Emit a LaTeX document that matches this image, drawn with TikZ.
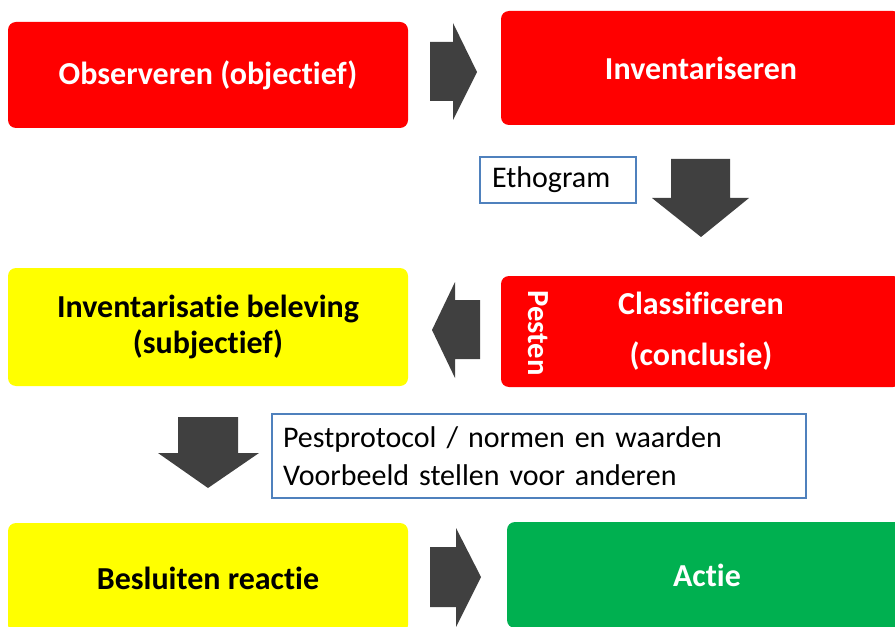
\documentclass[tikz,border=0pt]{standalone}
\usepackage{fontspec}
\setmainfont{Carlito}[Script = Latin, Ligatures = {NoCommon, NoRequired, NoContextual}]
\usetikzlibrary{positioning}
\definecolor{boxred}{HTML}{FF0000}
\definecolor{boxyellow}{HTML}{FFFF00}
\definecolor{boxgreen}{HTML}{00B050}
\definecolor{arrowgray}{HTML}{404040}
\definecolor{noteblue}{HTML}{4F81BD}
\tikzset{stepbox/.style = {rounded corners = 6pt, minimum width = 300pt,
                           align = center, inner sep = 0,
                           font = \fontsize{24}{27}\selectfont\bfseries}}
\tikzset{redbox/.style = {stepbox, fill = boxred, text = white}}
\tikzset{yellowbox/.style = {stepbox, fill = boxyellow, text = black}}
\tikzset{greenbox/.style = {stepbox, fill = boxgreen, text = white}}
\tikzset{notebox/.style = {draw = noteblue, line width = 1.5pt, fill = white,
                           align = left, inner ysep = 0,
                           font = \fontsize{22.5}{28.5}\selectfont}}
\tikzset{blockarrow/.style = {fill = arrowgray}}

\begin{document}
\begin{tikzpicture}[x = 0.75pt, y = -0.75pt]
      \useasboundingbox (0, 0) rectangle (895, 627);
      \clip (0, 0) rectangle (895, 627);

      % stappen
      \node [redbox, minimum height = 79.5pt] (observeren) at (208, 75) {Observeren (objectief)};
      \node [redbox, minimum height = 85.5pt] (inventariseren) at (701, 68) {Inventariseren};
      \node [yellowbox, minimum height = 88.5pt] (beleving) at (208, 327) {Inventarisatie beleving\\(subjectief)};
      \node [redbox, minimum height = 83.25pt, font = \fontsize{24}{38}\selectfont\bfseries] (classificeren) at (701, 331.5) {Classificeren\\(conclusie)};
      \node [text = white, font = \fontsize{23}{27}\selectfont\bfseries, rotate = -90] (pesten) at (538, 333) {Pesten};
      \node [yellowbox, minimum height = 82.5pt] (besluiten) at (208, 578) {Besluiten reactie};
      \node [greenbox, minimum height = 79.5pt] (actie) at (707, 575) {Actie};

      % toelichting
      \node [notebox, minimum height = 34.5pt, text width = 99pt, inner xsep = 9pt] (ethogram) at (558, 180) {\raisebox{-2pt}{Ethogram}};
      \node [notebox, minimum height = 63pt, text width = 384pt, inner xsep = 8.25pt] (protocol) at (539, 456) {Pestprotocol / normen en waarden\\Voorbeeld stellen voor anderen};

      % pijlen
      \fill [blockarrow] (430, 42) -- (453, 42) -- (453, 23) -- (477, 72) -- (453, 120) -- (453, 101) -- (430, 101) -- cycle;
      \fill [blockarrow] (671, 159) -- (730, 159) -- (730, 198) -- (749, 198) -- (701, 237) -- (652, 198) -- (671, 198) -- cycle;
      \fill [blockarrow] (480, 300) -- (455, 300) -- (455, 282) -- (432, 330) -- (455, 378) -- (455, 359) -- (480, 359) -- cycle;
      \fill [blockarrow] (178, 417) -- (238, 417) -- (238, 453) -- (259, 453) -- (208, 488) -- (158, 453) -- (178, 453) -- cycle;
      \fill [blockarrow] (430, 547) -- (456, 547) -- (456, 528) -- (481, 577) -- (456, 627) -- (456, 607) -- (430, 607) -- cycle;

    \end{tikzpicture}
\end{document}
